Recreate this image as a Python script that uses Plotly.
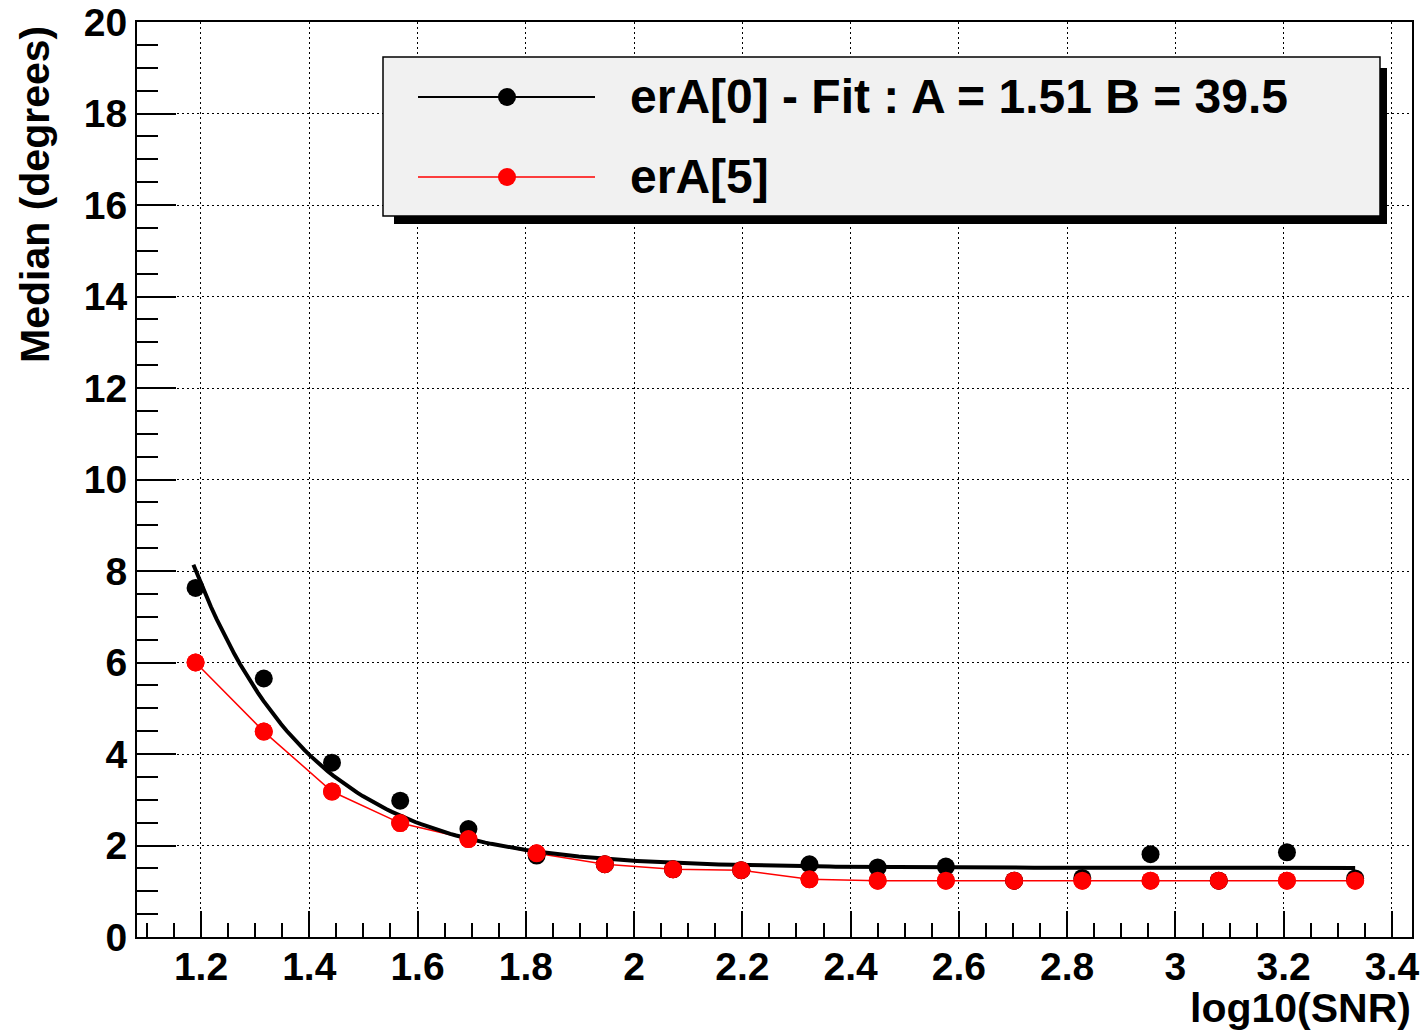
import numpy as np
import plotly.graph_objects as go

# log10(SNR) bins and median angular error (degrees)
log_snr = [1.190, 1.316, 1.442, 1.568, 1.694, 1.820, 1.946, 2.072, 2.198,
           2.324, 2.450, 2.576, 2.702, 2.828, 2.954, 3.080, 3.206, 3.332]
era0 = [7.63, 5.65, 3.81, 2.98, 2.36, 1.78, 1.59, 1.48, 1.46,
        1.59, 1.52, 1.54, 1.23, 1.29, 1.81, 1.23, 1.85, 1.28]
era5 = [6.00, 4.49, 3.18, 2.49, 2.14, 1.83, 1.59, 1.48, 1.46,
        1.26, 1.23, 1.23, 1.23, 1.23, 1.23, 1.23, 1.23, 1.23]

# fit parameters of erA[0]:  f = A + (B / SNR)^2
fit_A = 1.51
fit_B = 39.5

x_ticks = [1.2, 1.4, 1.6, 1.8, 2.0, 2.2, 2.4, 2.6, 2.8, 3.0, 3.2, 3.4]
x_tick_text = ["1.2", "1.4", "1.6", "1.8", "2", "2.2", "2.4", "2.6", "2.8", "3", "3.2", "3.4"]
y_ticks = [0, 2, 4, 6, 8, 10, 12, 14, 16, 18, 20]

legend_labels = ["erA[0] - Fit : A = 1.51 B = 39.5", "erA[5]"]

W, H = 1422, 1034
ML, MR, MT, MB = 137, 10, 22, 97
PW, PH = W - ML - MR, H - MT - MB


def px(x):
    return (x - ML) / PW


def py(y):
    return (H - MB - y) / PH


FONT = "Liberation Sans, Arial, Helvetica, sans-serif"

fit_x = np.linspace(log_snr[0] - 0.004, log_snr[-1], 200)
fit_y = fit_A + (fit_B / 10 ** fit_x) ** 2

MSIZE = 18

fig = go.Figure()
fig.add_trace(go.Scatter(x=log_snr, y=era5, mode="lines+markers",
                         line=dict(color="#ff0000", width=1.5),
                         marker=dict(color="#ff0000", size=MSIZE), showlegend=False))
fig.add_trace(go.Scatter(x=fit_x, y=fit_y, mode="lines",
                         line=dict(color="black", width=4), showlegend=False))
fig.add_trace(go.Scatter(x=log_snr, y=era0, mode="markers",
                         marker=dict(color="black", size=MSIZE), showlegend=False))
# red markers drawn last so they sit on top of the fit line
fig.add_trace(go.Scatter(x=log_snr, y=era5, mode="markers",
                         marker=dict(color="#ff0000", size=MSIZE), showlegend=False))

axis_common = dict(showline=True, linecolor="black", linewidth=2, mirror=True,
                   ticks="inside", tickcolor="black", tickwidth=1.5,
                   showgrid=True, gridcolor="black", gridwidth=1.4, griddash="2px,3px",
                   zeroline=False, automargin=False,
                   tickfont=dict(family=FONT, size=39, color="black", weight="bold"))

fig.update_xaxes(range=[1.0818, 3.437], tickvals=x_ticks, ticktext=x_tick_text,
                 ticklen=26, ticklabelstandoff=-6,
                 minor=dict(dtick=0.05, tick0=1.2, ticklen=14, ticks="inside",
                            tickcolor="black", tickwidth=1.5, showgrid=False),
                 **axis_common)
fig.update_yaxes(range=[0, 20], tickvals=y_ticks, ticklen=39, ticklabelstandoff=0,
                 minor=dict(dtick=0.5, tick0=0, ticklen=21, ticks="inside",
                            tickcolor="black", tickwidth=1.5, showgrid=False),
                 **axis_common)

shapes = []
annotations = []

# legend box with drop shadow
shapes.append(dict(type="rect", xref="paper", yref="paper",
                   x0=px(394), x1=px(1387), y0=py(224), y1=py(68),
                   fillcolor="black", line=dict(width=0), layer="above"))
shapes.append(dict(type="rect", xref="paper", yref="paper",
                   x0=px(383), x1=px(1380), y0=py(216), y1=py(57),
                   fillcolor="#f1f1f1", line=dict(color="black", width=1.5), layer="above"))

legend_colors = ["black", "#ff0000"]
legend_widths = [2, 1.5]
row_y = [97, 177]
for lab, col, lw, ry in zip(legend_labels, legend_colors, legend_widths, row_y):
    shapes.append(dict(type="line", xref="paper", yref="paper",
                       x0=px(418), x1=px(595), y0=py(ry), y1=py(ry),
                       line=dict(color=col, width=lw), layer="above"))
    r = 9
    shapes.append(dict(type="circle", xref="paper", yref="paper",
                       x0=px(507 - r), x1=px(507 + r), y0=py(ry + r), y1=py(ry - r),
                       fillcolor=col, line=dict(color=col, width=0), layer="above"))
    annotations.append(dict(xref="paper", yref="paper", x=px(628), y=py(ry),
                            xanchor="left", yanchor="middle", showarrow=False,
                            text=lab, font=dict(family=FONT, size=48, color="black",
                                                weight="bold")))

# axis titles
annotations.append(dict(xref="paper", yref="paper", x=px(1412), y=py(1008),
                        xanchor="right", yanchor="middle", showarrow=False,
                        borderpad=0, text="log10(SNR)",
                        font=dict(family=FONT, size=41, color="black", weight="bold")))
annotations.append(dict(xref="paper", yref="paper", x=px(35), y=py(195),
                        xanchor="center", yanchor="middle", showarrow=False,
                        textangle=-90, text="Median (degrees)",
                        font=dict(family=FONT, size=41, color="black", weight="bold")))

fig.update_layout(width=W, height=H,
                  margin=dict(l=ML, r=MR, t=MT, b=MB, pad=0, autoexpand=False),
                  paper_bgcolor="white", plot_bgcolor="white",
                  shapes=shapes, annotations=annotations, showlegend=False)

fig.write_html("out.html")
